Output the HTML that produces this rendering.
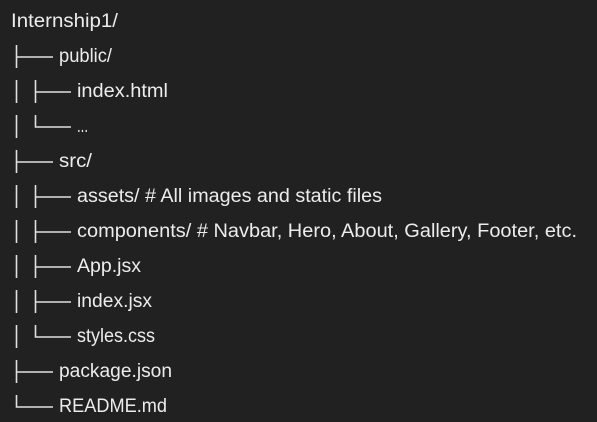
<!DOCTYPE html>
<html><head><meta charset="utf-8"><style>
html,body{margin:0;padding:0;background:#212121;}
svg{display:block}
text{font-family:"Liberation Sans",sans-serif;font-size:19px;fill:#ececec}
</style></head><body>
<svg width="597" height="422" viewBox="0 0 597 422" xmlns="http://www.w3.org/2000/svg">
<rect width="597" height="422" fill="#212121"/>
<g stroke="#e0e0e0" stroke-width="1.6" fill="none">
<path d="M16.5 45V68 M16.5 57H53"/>
<path d="M16.5 80V103 M35.5 80V103 M35.5 92H71"/>
<path d="M16.5 115V138 M35.5 115V127H71"/>
<path d="M16.5 150V173 M16.5 162H53"/>
<path d="M16.5 185V208 M35.5 185V208 M35.5 197H71"/>
<path d="M16.5 220V243 M35.5 220V243 M35.5 232H71"/>
<path d="M16.5 255V278 M35.5 255V278 M35.5 267H71"/>
<path d="M16.5 290V313 M35.5 290V313 M35.5 302H71"/>
<path d="M16.5 325V348 M35.5 325V337H71"/>
<path d="M16.5 360V383 M16.5 372H53"/>
<path d="M16.5 395V407H53"/>
</g>
<text x="11" y="27" textLength="107" lengthAdjust="spacingAndGlyphs">Internship1/</text>
<text x="59" y="62" textLength="53" lengthAdjust="spacingAndGlyphs">public/</text>
<text x="77" y="97" textLength="91" lengthAdjust="spacingAndGlyphs">index.html</text>
<text x="77" y="132" textLength="11" lengthAdjust="spacingAndGlyphs">...</text>
<text x="59" y="167" textLength="33" lengthAdjust="spacingAndGlyphs">src/</text>
<text x="77" y="202" textLength="305" lengthAdjust="spacingAndGlyphs">assets/ # All images and static files</text>
<text x="77" y="237" textLength="500" lengthAdjust="spacingAndGlyphs">components/ # Navbar, Hero, About, Gallery, Footer, etc.</text>
<text x="77" y="272" textLength="64" lengthAdjust="spacingAndGlyphs">App.jsx</text>
<text x="77" y="307" textLength="75" lengthAdjust="spacingAndGlyphs">index.jsx</text>
<text x="77" y="342" textLength="78" lengthAdjust="spacingAndGlyphs">styles.css</text>
<text x="59" y="377" textLength="113" lengthAdjust="spacingAndGlyphs">package.json</text>
<text x="59" y="412" textLength="108" lengthAdjust="spacingAndGlyphs">README.md</text>
</svg>
</body></html>
